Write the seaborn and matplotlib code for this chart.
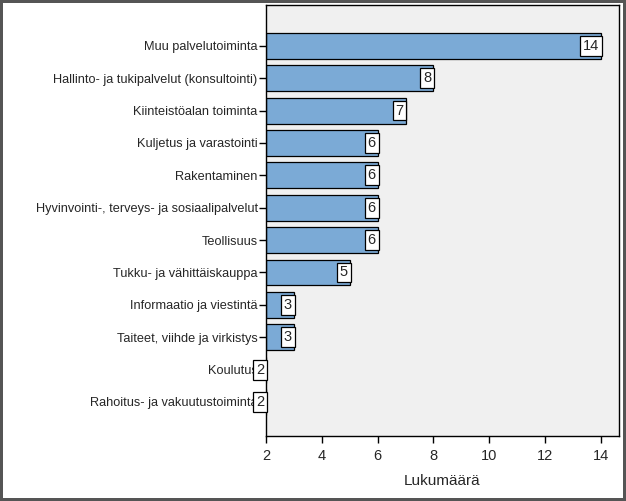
import matplotlib
matplotlib.use("Agg")
import matplotlib.pyplot as plt
import seaborn as sns
import pandas as pd

categories = ["Muu palvelutoiminta", "Hallinto- ja tukipalvelut (konsultointi)",
              "Kiinteistöalan toiminta", "Kuljetus ja varastointi", "Rakentaminen",
              "Hyvinvointi-, terveys- ja sosiaalipalvelut", "Teollisuus",
              "Tukku- ja vähittäiskauppa", "Informaatio ja viestintä",
              "Taiteet, viihde ja virkistys", "Koulutus", "Rahoitus- ja vakuutustoiminta"]
values = [14, 8, 7, 6, 6, 6, 6, 5, 3, 3, 2, 2]
x_ticks = [2, 4, 6, 8, 10, 12, 14]

df = pd.DataFrame({"cat": categories, "val": values})

sns.set_style("white")
plt.rcParams['font.family'] = ['Liberation Sans', 'DejaVu Sans']

fig = plt.figure(figsize=(6.26, 5.01), dpi=100)
fig.patch.set_facecolor("white")
fig.patch.set_edgecolor("#555555")
fig.patch.set_linewidth(3)
ax = fig.add_axes([266/626, 1-436/501, (619-266)/626, (436-5)/501])
ax.set_facecolor("#F0F0F0")

base = 2
sns.barplot(data=df.assign(w=df["val"] - base), x="w", y="cat", left=base,
            color="#7BAAD6", saturation=1, edgecolor="black", linewidth=0.9,
            width=0.8, ax=ax, orient="h")

for i, v in enumerate(values):
    ax.text(v - 0.07, i, str(v), ha="right", va="center", fontsize=10.5,
            bbox=dict(boxstyle="square,pad=0.2", fc="white", ec="black", lw=0.9),
            zorder=5)

ax.set_xlim(2, 14.65)
ax.set_ylim(12.05, -1.26)
ax.set_xticks(x_ticks)
ax.set_xticklabels([str(t) for t in x_ticks])
ax.tick_params(axis="both", direction="out", length=5, width=1, color="black",
               left=True, bottom=True)
ax.tick_params(axis="y", labelsize=9.2, pad=1)
ax.tick_params(axis="x", labelsize=10.5, pad=4)
ax.set_ylabel("")
ax.set_xlabel("Lukumäärä", fontsize=11, labelpad=8)
for s in ax.spines.values():
    s.set_color("black")
    s.set_linewidth(1)

fig.savefig("out.png", dpi=100)
